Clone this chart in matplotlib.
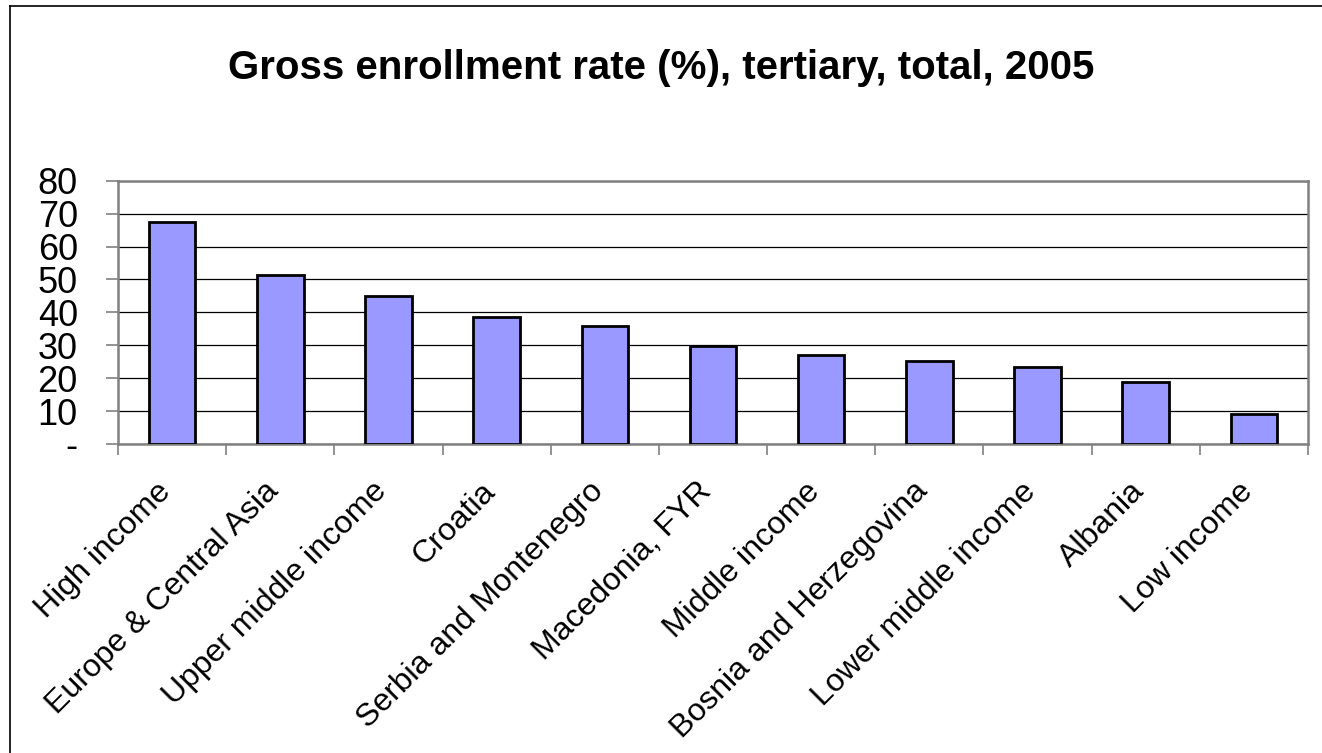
import matplotlib.pyplot as plt
import matplotlib.transforms as mtransforms
from matplotlib.lines import Line2D
import numpy as np

# data
categories = ['High income', 'Europe & Central Asia', 'Upper middle income', 'Croatia',
              'Serbia and Montenegro', 'Macedonia, FYR', 'Middle income',
              'Bosnia and Herzegovina', 'Lower middle income', 'Albania', 'Low income']
values = [67.4, 51.2, 45.0, 38.6, 36.0, 29.7, 26.9, 25.2, 23.5, 18.8, 9.0]
yticks = [0, 10, 20, 30, 40, 50, 60, 70, 80]
yticklabels = ['-', '10', '20', '30', '40', '50', '60', '70', '80']

plt.rcParams['font.family'] = ['Liberation Sans', 'DejaVu Sans']

fig = plt.figure(figsize=(13.22, 7.53), dpi=100)
ax = fig.add_axes([0.0893, 0.4104, 0.9001, 0.3496])

x = np.arange(len(categories))
ax.bar(x, values, width=0.43, color='#9999FF', edgecolor='black', linewidth=2, zorder=3)

ax.set_xlim(-0.5, len(categories) - 0.5)
ax.set_ylim(0, 80)
ax.set_yticks(yticks)
ax.set_yticklabels(yticklabels, fontsize=26)
ax.tick_params(axis='y', length=9, width=1.2, color='#808080', pad=20)

# category labels at centres, tick marks at boundaries
ax.set_xticks(x)
ax.set_xticklabels(categories, fontsize=23, rotation=45, ha='right', va='center',
                   rotation_mode='anchor')
ax.tick_params(axis='x', which='major', length=0, pad=31)
shift = mtransforms.ScaledTranslation(-6 / 100, 0, fig.dpi_scale_trans)
for lab in ax.get_xticklabels():
    lab.set_transform(lab.get_transform() + shift)
ax.set_xticks(np.arange(len(categories) + 1) - 0.5, minor=True)
ax.tick_params(axis='x', which='minor', length=8, width=1.2, color='#808080')

ax.yaxis.grid(True, color='black', linewidth=0.9, zorder=0)
for s in ax.spines.values():
    s.set_color('#808080')
    s.set_linewidth(1.8)

fig.suptitle('Gross enrollment rate (%), tertiary, total, 2005', fontsize=29,
             fontweight='bold', y=0.935)

# outer chart border (top and left visible)
fig.add_artist(Line2D([0.0076, 1.0], [0.992, 0.992], color='black', lw=1.2,
                      transform=fig.transFigure))
fig.add_artist(Line2D([0.0076, 0.0076], [0.0, 0.992], color='black', lw=1.2,
                      transform=fig.transFigure))

fig.savefig('out.png', dpi=100)
